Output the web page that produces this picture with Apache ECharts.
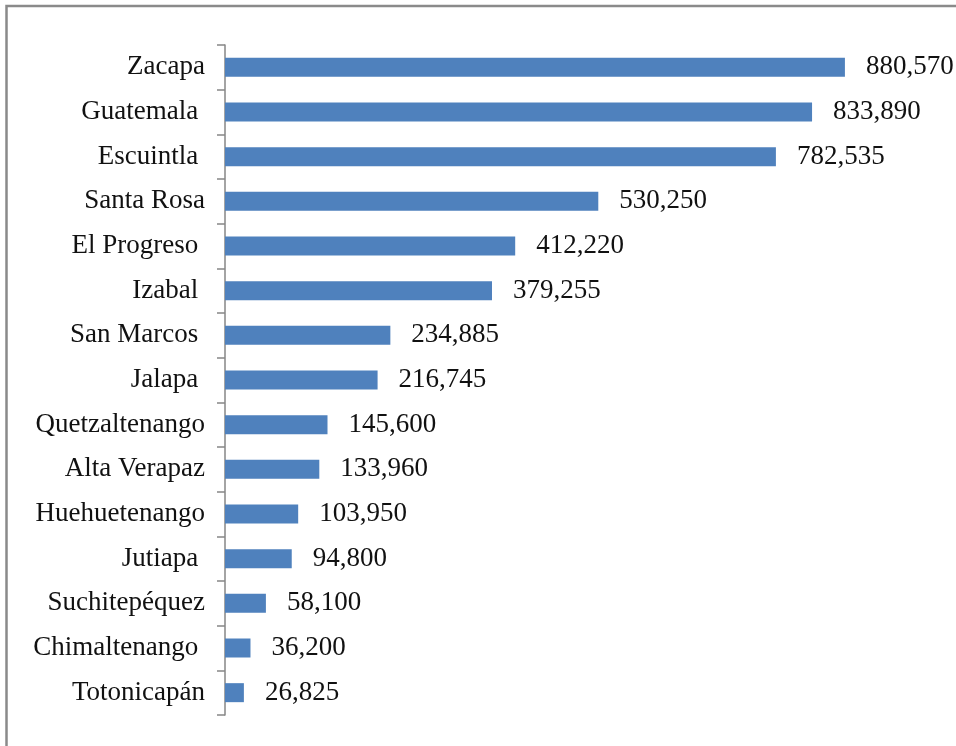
<!DOCTYPE html>
<html>
<head>
<meta charset="utf-8">
<title>Departamentos</title>
<script src="https://cdn.jsdelivr.net/npm/echarts@6/dist/echarts.min.js"></script>
<style>
    html, body { margin: 0; padding: 0; background: #fff; }
    #chart { width: 956px; height: 746px; }
</style>
</head>
<body>
<div id="chart"></div>
<script>
// datos (de abajo hacia arriba, como en el eje de categorias)
var departamentos = ['Totonicapán', 'Chimaltenango ', 'Suchitepéquez', 'Jutiapa ', 'Huehuetenango',
    'Alta Verapaz', 'Quetzaltenango', 'Jalapa ', 'San Marcos ', 'Izabal ',
    'El Progreso ', 'Santa Rosa', 'Escuintla ', 'Guatemala ', 'Zacapa'];
var valores = [26825, 36200, 58100, 94800, 103950,
    133960, 145600, 216745, 234885, 379255,
    412220, 530250, 782535, 833890, 880570];
var ejeMax = 1000000;

new function main() {
    var myChart = echarts.init(document.getElementById('chart'));

    var fuente = 'Liberation Serif';

    var option = {
        animation: false,
        grid: { left: 225, top: 45, width: 704, height: 670 },
        xAxis: {
            type: 'value',
            min: 0,
            max: ejeMax,
            show: false
        },
        yAxis: {
            type: 'category',
            data: departamentos,
            axisLine: { lineStyle: { color: '#868686', width: 1.5 } },
            axisTick: { show: true, length: 8, lineStyle: { color: '#868686', width: 1.5 } },
            axisLabel: {
                margin: 20,
                color: '#111',
                fontFamily: fuente,
                fontSize: 27
            }
        },
        series: [{
            type: 'bar',
            data: valores,
            barWidth: 19,
            itemStyle: { color: '#4F81BD' },
            label: {
                show: true,
                position: 'right',
                distance: 21,
                color: '#111',
                fontFamily: fuente,
                fontSize: 27,
                formatter: function(p) {
                    return p.value.toLocaleString('en-US');
                }
            }
        }],
        // marco del grafico
        graphic: [{
            type: 'rect',
            shape: { x: 6.5, y: 6, width: 1000, height: 1000 },
            style: { fill: 'none', stroke: '#8a8a8a', lineWidth: 2.5 }
        }]
    };

    myChart.setOption(option);
}
</script>
</body>
</html>
